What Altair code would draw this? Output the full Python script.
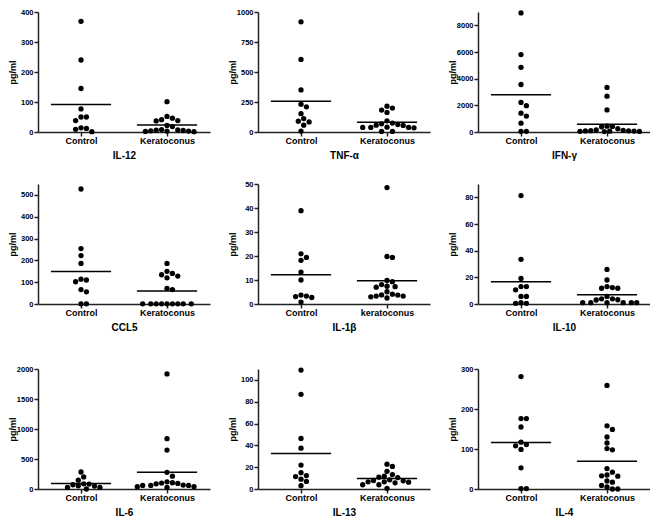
import altair as alt
import pandas as pd
import math

# ---------------- data ----------------
panel_names = ["IL-12", "TNF-α", "IFN-γ", "CCL5", "IL-1β", "IL-10", "IL-6", "IL-13", "IL-4"]
y_max = [400, 1000, 9000, 550, 50, 90, 2000, 110, 300]
y_ticks = [
    [0, 100, 200, 300, 400],
    [0, 250, 500, 750, 1000],
    [0, 2000, 4000, 6000, 8000],
    [0, 100, 200, 300, 400, 500],
    [0, 10, 20, 30, 40, 50],
    [0, 20, 40, 60, 80],
    [0, 500, 1000, 1500, 2000],
    [0, 20, 40, 60, 80, 100],
    [0, 100, 200, 300],
]
group_labels = [
    ["Control", "Keratoconus"], ["Control", "Keratoconus"], ["Control", "Keratoconus"],
    ["Control", "Keratoconus"], ["Control", "keratoconus"], ["Control", "Keratoconus"],
    ["Control", "Keratoconus"], ["Control", "Keratoconus"], ["Control", "Keratoconus"],
]

il12_control = [369, 240, 145, 77, 50, 50, 38, 14, 12, 9, 1]
il12_kerato = [101, 52, 46, 41, 38, 37, 22, 18, 8, 7, 6, 5, 4, 3, 3, 2, 1]
tnf_control = [918, 605, 351, 232, 210, 153, 112, 90, 84, 57, 8]
tnf_kerato = [215, 199, 183, 163, 93, 74, 68, 62, 57, 55, 40, 38, 38, 38, 35, 5, 5]
ifng_control = [8927, 5805, 4854, 3561, 2220, 1976, 1415, 1195, 659, 50, 50]
ifng_kerato = [3341, 2683, 1659, 440, 415, 390, 244, 150, 120, 100, 90, 80, 70, 60, 50, 40, 30]
ccl5_control = [527, 254, 222, 186, 114, 110, 102, 66, 56, 1, 1]
ccl5_kerato = [186, 150, 140, 134, 128, 120, 72, 66, 1, 1, 1, 1, 1, 1, 1, 1, 1]
il1b_control = [38.9, 20.9, 19.4, 18.2, 13.3, 10.0, 3.7, 3.3, 3.1, 2.7, 0.8]
il1b_kerato = [48.5, 19.8, 19.4, 9.8, 9.3, 8.1, 7.4, 7.2, 7.0, 5.1, 4.1, 3.8, 3.7, 3.3, 3.3, 3.0, 2.5]
il10_control = [81.3, 33.5, 19.2, 13.1, 13.1, 10.6, 5.7, 5.7, 1.0, 0.5, 0.5]
il10_kerato = [25.9, 18.0, 13.1, 12.3, 11.8, 11.8, 5.7, 3.9, 3.9, 3.2, 3.0, 1, 1, 1, 1, 1, 1]
il6_control = [283, 202, 147, 87, 82, 71, 54, 49, 27, 27, 0]
il6_kerato = [1918, 839, 649, 278, 213, 120, 104, 98, 93, 87, 65, 60, 60, 60, 38, 38, 27]
il13_control = [109, 86.8, 46.4, 37.4, 21.9, 15.0, 12.3, 11.4, 9.0, 6.9, 3.0]
il13_kerato = [22.8, 20.7, 16.2, 13.2, 11.7, 10.8, 10.5, 8.4, 7.8, 7.5, 6.6, 6.6, 6.3, 5.7, 3.9, 3.9, 0.6]
il4_control = [281, 176, 176, 155, 117, 111, 108, 99, 53, 1, 1]
il4_kerato = [259, 158, 149, 130, 115, 101, 98, 51, 42, 35, 33, 32, 20, 17, 9, 5, 0, 0]

control_sets = [il12_control, tnf_control, ifng_control, ccl5_control, il1b_control,
                il10_control, il6_control, il13_control, il4_control]
kerato_sets = [il12_kerato, tnf_kerato, ifng_kerato, ccl5_kerato, il1b_kerato,
               il10_kerato, il6_kerato, il13_kerato, il4_kerato]

# ---------------- layout constants ----------------
W, H = 172, 120
MIN_D = 5.4           # minimal centre distance between dots (px)
STEP_PX = 2.7         # horizontal search step (px)
PX_PER_UNIT = W / 2.0  # x domain spans 2 units
HALF_LINE = 0.35
FONT = "Liberation Sans"


def swarm_offsets(vals, px_per_unit):
    """Simple 2-D beeswarm: horizontal pixel offsets so dots do not overlap."""
    order = sorted(range(len(vals)), key=lambda i: -vals[i])
    cand = [0]
    for s in range(1, 30):
        cand += [s, -s]
    placed = []
    offs = [0.0] * len(vals)
    for i in order:
        y = vals[i] * px_per_unit
        chosen = 0.0
        for s in cand:
            x = s * STEP_PX
            if all(math.hypot(px - x, py - y) >= MIN_D for px, py in placed):
                chosen = x
                break
        placed.append((chosen, y))
        offs[i] = chosen
    return offs


def make_panel(i):
    rows = []
    ppu = H / y_max[i]
    for g, vals in enumerate([control_sets[i], kerato_sets[i]]):
        offs = swarm_offsets(vals, ppu)
        for v, o in zip(vals, offs):
            rows.append({"group": g, "value": v, "xpos": g + o / PX_PER_UNIT})
    df = pd.DataFrame(rows)
    a, b = group_labels[i]
    x_axis = alt.Axis(
        values=[0, 1], labelExpr=f"datum.value == 0 ? '{a}' : '{b}'",
        title=panel_names[i], grid=False, tickSize=4, labelPadding=0,
        labelFontSize=9, labelFontWeight="bold", titleFontSize=10,
        titleFontWeight="bold", titlePadding=5,
    )
    y_axis = alt.Axis(
        values=y_ticks[i], format="d", title="pg/ml", grid=False, tickSize=4,
        labelPadding=1, labelFontSize=7.5, labelFontWeight="bold", titleFontSize=9,
        titleFontWeight="bold", titlePadding=2, minExtent=19, maxExtent=19,
    )
    xs = alt.Scale(domain=[-0.5, 1.5], nice=False, zero=False)
    ys = alt.Scale(domain=[0, y_max[i]], nice=False)
    pts = alt.Chart(df).mark_circle(size=28, color="black", opacity=1).encode(
        x=alt.X("xpos:Q", scale=xs, axis=x_axis),
        y=alt.Y("value:Q", scale=ys, axis=y_axis),
    )
    mean = (
        alt.Chart(df)
        .transform_aggregate(m="mean(value)", groupby=["group"])
        .transform_calculate(x1=f"datum.group - {HALF_LINE}", x2=f"datum.group + {HALF_LINE}")
        .mark_rule(color="black", strokeWidth=1.5)
        .encode(
            x=alt.X("x1:Q", scale=xs, axis=x_axis),
            x2="x2:Q",
            y=alt.Y("m:Q", scale=ys, axis=y_axis),
        )
    )
    return alt.layer(pts, mean).properties(width=W, height=H)


panels = [make_panel(i) for i in range(9)]
row1 = alt.hconcat(*panels[0:3], spacing=18)
row2 = alt.hconcat(*panels[3:6], spacing=18)
row3 = alt.hconcat(*panels[6:9], spacing=18)

chart = (
    alt.vconcat(alt.vconcat(row1, row2, spacing=20), row3, spacing=33)
    .properties(padding=0)
    .configure_view(stroke=None)
    .configure_axis(
        labelFont=FONT, titleFont=FONT, labelColor="black", titleColor="black",
        domainColor="#222222", tickColor="#222222", domainWidth=1.5, tickWidth=1.5,
    )
)

chart.save("out.html", embed_options={"renderer": "svg", "actions": False})
